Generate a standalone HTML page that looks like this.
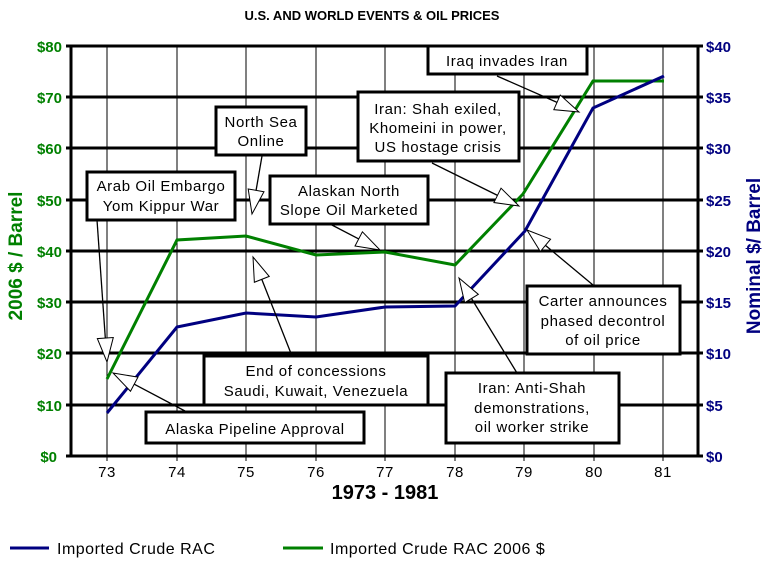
<!DOCTYPE html>
<html><head><meta charset="utf-8"><style>
html,body{margin:0;padding:0;background:#fff;}
svg{display:block;font-family:"Liberation Sans",Arial,sans-serif;}
</style></head><body>
<svg id="s" width="772" height="569" viewBox="0 0 772 569" xmlns="http://www.w3.org/2000/svg">
<rect width="772" height="569" fill="#fff"/>
<text x="372" y="20" font-size="13" font-weight="bold" text-anchor="middle">U.S. AND WORLD EVENTS &amp;  OIL PRICES</text>
<g stroke="#000" stroke-width="1">
<line x1="107" y1="46" x2="107" y2="461"/><line x1="177" y1="46" x2="177" y2="461"/>
<line x1="246" y1="46" x2="246" y2="461"/><line x1="316" y1="46" x2="316" y2="461"/>
<line x1="385" y1="46" x2="385" y2="461"/><line x1="455" y1="46" x2="455" y2="461"/>
<line x1="524" y1="46" x2="524" y2="461"/><line x1="594" y1="46" x2="594" y2="461"/>
<line x1="663" y1="46" x2="663" y2="461"/>
</g>
<g stroke="#000" stroke-width="3">
<line x1="66" y1="46" x2="703" y2="46"/><line x1="66" y1="97" x2="703" y2="97"/>
<line x1="66" y1="148" x2="703" y2="148"/><line x1="66" y1="200" x2="703" y2="200"/>
<line x1="66" y1="251" x2="703" y2="251"/><line x1="66" y1="302" x2="703" y2="302"/>
<line x1="66" y1="353" x2="703" y2="353"/><line x1="66" y1="405" x2="703" y2="405"/>
<line x1="66" y1="456" x2="703" y2="456"/>
<line x1="71" y1="46" x2="71" y2="457"/><line x1="698" y1="46" x2="698" y2="457"/>
</g>
<g fill="#008000" font-size="15" font-weight="bold" text-anchor="end">
<text x="62" y="52">$80</text><text x="62" y="103">$70</text><text x="62" y="154">$60</text>
<text x="62" y="206">$50</text><text x="62" y="257">$40</text><text x="62" y="308">$30</text>
<text x="62" y="359">$20</text><text x="62" y="411">$10</text><text x="57" y="462">$0</text>
</g>
<g fill="#000080" font-size="15" font-weight="bold">
<text x="706" y="52">$40</text><text x="706" y="103">$35</text><text x="706" y="154">$30</text>
<text x="706" y="206">$25</text><text x="706" y="257">$20</text><text x="706" y="308">$15</text>
<text x="706" y="359">$10</text><text x="706" y="411">$5</text><text x="706" y="462">$0</text>
</g>
<text transform="translate(22,256) rotate(-90)" fill="#008000" font-size="19" font-weight="bold" text-anchor="middle">2006 $ / Barrel</text>
<text transform="translate(760,256) rotate(-90)" fill="#000080" font-size="19" font-weight="bold" text-anchor="middle">Nominal $/ Barrel</text>
<g font-size="15" text-anchor="middle" letter-spacing="0.5">
<text x="107" y="477">73</text><text x="177" y="477">74</text><text x="246" y="477">75</text>
<text x="316" y="477">76</text><text x="385" y="477">77</text><text x="455" y="477">78</text>
<text x="524" y="477">79</text><text x="594" y="477">80</text><text x="663" y="477">81</text>
</g>
<text x="385" y="499" font-size="20" font-weight="bold" text-anchor="middle">1973 - 1981</text>
<polyline fill="none" stroke="#008000" stroke-width="3" points="107,379 177,240 246,236 316,255 385,252 455,265 523,194 593,81 664,81"/>
<polyline fill="none" stroke="#000080" stroke-width="3" points="107,413 177,327 246,313 316,317 385,307 455,306 525,231 593,108 664,76"/>
<g id="arrows"></g>
<g fill="#fff" stroke="#000" stroke-width="3">
<rect x="428" y="46" width="159" height="28"/>
<rect x="358" y="92" width="161" height="69"/>
<rect x="216" y="107" width="90" height="48"/>
<rect x="87" y="172" width="148" height="48"/>
<rect x="270" y="176" width="158" height="48"/>
<rect x="527" y="286" width="153" height="68"/>
<rect x="446" y="373" width="173" height="70"/>
<rect x="204" y="356" width="224" height="49"/>
<rect x="146" y="412" width="218" height="31"/>
</g>
<g font-size="15" text-anchor="middle" letter-spacing="0.6">
<text x="507" y="66">Iraq invades Iran</text>
<text x="438" y="114">Iran: Shah exiled,</text><text x="438" y="133">Khomeini in power,</text><text x="438" y="152">US hostage crisis</text>
<text x="261" y="127">North Sea</text><text x="261" y="146">Online</text>
<text x="161" y="191">Arab Oil Embargo</text><text x="161" y="211">Yom Kippur War</text>
<text x="349" y="196">Alaskan North</text><text x="349" y="215">Slope Oil Marketed</text>
<text x="603" y="306">Carter announces</text><text x="603" y="326">phased decontrol</text><text x="603" y="345">of oil price</text>
<text x="532" y="393">Iran: Anti-Shah</text><text x="532" y="413">demonstrations,</text><text x="532" y="432">oil worker strike</text>
<text x="316" y="376">End of  concessions</text><text x="316" y="396">Saudi, Kuwait, Venezuela</text>
<text x="255" y="434">Alaska Pipeline Approval</text>
</g>
<line x1="10" y1="548" x2="49" y2="548" stroke="#000080" stroke-width="3"/>
<text x="57" y="554" font-size="16" letter-spacing="0.5">Imported Crude RAC</text>
<line x1="283" y1="548" x2="323" y2="548" stroke="#008000" stroke-width="3"/>
<text x="330" y="554" font-size="16" letter-spacing="0.5">Imported Crude RAC 2006 $</text>
</svg>
<script>
var A=[[97,220,107,362],[262,156,252,214],[330,224,380,250],[432,163,519,206],[497,76,579,112],[593,285,527,230],[517,373,459,278],[292,356,253,257],[185,411,113,373]];
var g=document.getElementById('arrows'),h='';
A.forEach(function(a){var dx=a[2]-a[0],dy=a[3]-a[1],L=Math.sqrt(dx*dx+dy*dy),ux=dx/L,uy=dy/L,px=-uy,py=ux,hl=24,hw=8;
var bx=a[2]-ux*hl,by=a[3]-uy*hl;
h+='<line x1="'+a[0]+'" y1="'+a[1]+'" x2="'+bx+'" y2="'+by+'" stroke="#000" stroke-width="1.3"/>';
h+='<polygon points="'+a[2]+','+a[3]+' '+(bx+px*hw)+','+(by+py*hw)+' '+(bx-px*hw)+','+(by-py*hw)+'" fill="#fff" stroke="#000" stroke-width="1"/>';});
g.innerHTML=h;
</script>
</body></html>
